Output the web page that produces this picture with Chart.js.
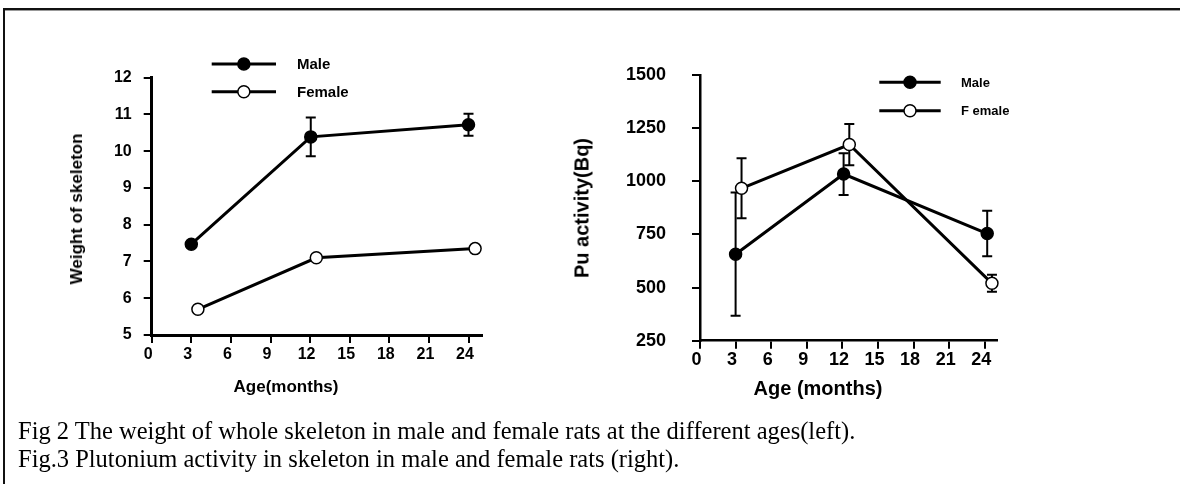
<!DOCTYPE html>
<html><head><meta charset="utf-8">
<script src="https://cdn.jsdelivr.net/npm/chart.js@4.4.1/dist/chart.umd.min.js"></script>
<style>
html,body{margin:0;padding:0;background:#fff;width:1180px;height:484px;overflow:hidden;position:relative;font-family:"Liberation Sans",Arial,sans-serif;}
#frameTop{position:absolute;left:3px;top:8px;width:1177px;height:2px;background:#111;}
#frameTop2{position:absolute;left:3px;top:10px;width:1177px;height:1px;background:#999;}
#frameLeft{position:absolute;left:3px;top:8px;width:2px;height:476px;background:#111;}
canvas{position:absolute;top:0;}
#cL{left:0;}
#cR{left:540px;}
.t{position:absolute;font-weight:bold;color:#000;white-space:nowrap;transform:translate(-50%,-50%);}
.rot{transform:translate(-50%,-50%) rotate(-90deg);}
#caption{position:absolute;left:18px;top:417px;font-family:"Liberation Serif","Times New Roman",serif;font-size:24.5px;line-height:28px;color:#000;white-space:nowrap;}
</style></head>
<body>
<div id="frameTop"></div><div id="frameTop2"></div><div id="frameLeft"></div>
<canvas id="cL" width="540" height="420"></canvas>
<canvas id="cR" width="640" height="420"></canvas>
<div class="t rot" style="left:77px;top:209px;font-size:17px;">Weight of skeleton</div>
<div class="t" style="left:286px;top:387px;font-size:17px;">Age(months)</div>
<div class="t rot" style="left:582px;top:207.5px;font-size:20px;">Pu activity(Bq)</div>
<div class="t" style="left:818px;top:388px;font-size:20px;">Age (months)</div>
<div id="caption">Fig 2 The weight of whole skeleton in male and female rats at the different ages(left).<br>Fig.3 Plutonium activity in skeleton in male and female rats (right).</div>
<script>
// ---- Data: left chart (weight of skeleton) ----
const leftMaleAge = [3, 12.05, 24];
const leftMaleWeight = [7.47, 10.39, 10.72];
const leftMaleErr = [0, 0.53, 0.30];
const leftFemaleAge = [3.5, 12.47, 24.5];
const leftFemaleWeight = [5.70, 7.10, 7.35];
const leftFemaleErr = [0, 0, 0];
const leftXTicks = [0, 3, 6, 9, 12, 15, 18, 21, 24];
const leftYTicks = [5, 6, 7, 8, 9, 10, 11, 12];
const leftLegend = ["Male", "Female"];

// ---- Data: right chart (Pu activity) ----
const rightMaleAge = [3, 12.1, 24.2];
const rightMaleActivity = [657, 1034, 754];
const rightMaleErr = [290, 98, 107];
const rightFemaleAge = [3.5, 12.58, 24.6];
const rightFemaleActivity = [967, 1173, 520];
const rightFemaleErr = [141, 97, 40];
const rightXTicks = [0, 3, 6, 9, 12, 15, 18, 21, 24];
const rightYTicks = [250, 500, 750, 1000, 1250, 1500];
const rightLegend = ["Male", "F emale"];

function pts(xs, ys){ return xs.map((x,i)=>({x:x, y:ys[i]})); }

const errorBarPlugin = {
  id:'errorBars',
  beforeDatasetsDraw(chart, args, opts){
    const ctx = chart.ctx, xs = chart.scales.x, ys = chart.scales.y;
    ctx.save();
    ctx.strokeStyle = '#000';
    ctx.lineWidth = opts.lineWidth || 2;
    chart.data.datasets.forEach(ds=>{
      (ds.errors||[]).forEach((e,i)=>{
        if(!e) return;
        const p = ds.data[i];
        const px = xs.getPixelForValue(p.x);
        const yt = ys.getPixelForValue(p.y + e), yb = ys.getPixelForValue(p.y - e);
        const cw = opts.cap || 5;
        ctx.beginPath();
        ctx.moveTo(px, yt); ctx.lineTo(px, yb);
        ctx.moveTo(px-cw, yt); ctx.lineTo(px+cw, yt);
        ctx.moveTo(px-cw, yb); ctx.lineTo(px+cw, yb);
        ctx.stroke();
      });
    });
    ctx.restore();
  }
};

const legendPlugin = {
  id:'lineLegend',
  afterDraw(chart, args, o){
    const ctx = chart.ctx;
    ctx.save();
    chart.data.datasets.forEach((ds,i)=>{
      const y = o.y0 + i*o.dy;
      ctx.strokeStyle = '#000'; ctx.lineWidth = 3;
      ctx.beginPath(); ctx.moveTo(o.x1, y); ctx.lineTo(o.x2, y); ctx.stroke();
      ctx.beginPath(); ctx.arc((o.x1+o.x2)/2, y, o.r, 0, Math.PI*2);
      ctx.fillStyle = ds.pointBackgroundColor; ctx.fill();
      ctx.lineWidth = 1.5; ctx.stroke();
      ctx.fillStyle = '#000';
      ctx.font = 'bold ' + o.size + 'px "Liberation Sans", Arial, sans-serif';
      ctx.textBaseline = 'middle'; ctx.textAlign = 'left';
      ctx.fillText(ds.label, o.tx, y + 1);
    });
    ctx.restore();
  }
};

function makeChart(id, cfg){
  const font = {family:'"Liberation Sans", Arial, sans-serif', weight:'bold', size:cfg.tickSize};
  return new Chart(document.getElementById(id), {
    type:'line',
    data:{datasets:[
      {label:cfg.legend[0], data:pts(cfg.mx, cfg.my), errors:cfg.me, borderColor:'#000', borderWidth:3,
       pointRadius:6, pointBackgroundColor:'#000', pointBorderColor:'#000', pointBorderWidth:1.5, clip:false},
      {label:cfg.legend[1], data:pts(cfg.fx, cfg.fy), errors:cfg.fe, borderColor:'#000', borderWidth:3,
       pointRadius:6, pointBackgroundColor:'#fff', pointBorderColor:'#000', pointBorderWidth:1.5, clip:false}
    ]},
    options:{
      responsive:false, animation:false, events:[],
      layout:{padding:{left:0, top:cfg.top, right:cfg.right, bottom:0}},
      plugins:{legend:{display:false}, tooltip:{enabled:false},
        errorBars:{lineWidth:2, cap:5}, lineLegend:cfg.leg},
      scales:{
        x:{type:'linear', min:0, max:25,
          afterBuildTicks:s=>{s.ticks = cfg.xt.map(v=>({value:v}));},
          afterFit:s=>{s.height = cfg.xh;},
          grid:{display:true, drawOnChartArea:false, drawTicks:true, tickLength:8, color:'#000', lineWidth:2},
          border:{display:true, color:'#000', width:cfg.bw},
          ticks:{color:'#000', font:font, padding:cfg.xpad, maxRotation:0, autoSkip:false, labelOffset:-3.5,
            callback:v=>String(v)}},
        y:{type:'linear', min:cfg.ymin, max:cfg.ymax,
          afterBuildTicks:s=>{s.ticks = cfg.yt.map(v=>({value:v}));},
          afterFit:s=>{s.width = cfg.yw;},
          grid:{display:true, drawOnChartArea:false, drawTicks:true, tickLength:8, color:'#000', lineWidth:2},
          border:{display:true, color:'#000', width:cfg.bw},
          ticks:{color:'#000', font:font, padding:cfg.ypad, autoSkip:false, callback:v=>String(v)}}
      }
    },
    plugins:[errorBarPlugin, legendPlugin]
  });
}

makeChart('cL', {mx:leftMaleAge, my:leftMaleWeight, me:leftMaleErr, fx:leftFemaleAge, fy:leftFemaleWeight, fe:leftFemaleErr,
  xt:leftXTicks, yt:leftYTicks, legend:leftLegend, ymin:5, ymax:12, tickSize:16, bw:3,
  top:77.7, right:58.3, xh:85, yw:151.7, xpad:2, ypad:12,
  leg:{x1:211.7, x2:276, y0:64, dy:27.7, r:6, tx:297, size:15}});

makeChart('cR', {mx:rightMaleAge, my:rightMaleActivity, me:rightMaleErr, fx:rightFemaleAge, fy:rightFemaleActivity, fe:rightFemaleErr,
  xt:rightXTicks, yt:rightYTicks, legend:rightLegend, ymin:250, ymax:1500, tickSize:18, bw:2.5,
  top:75, right:183.3, xh:79.3, yw:160, xpad:1, ypad:26,
  leg:{x1:339.3, x2:400.7, y0:82.3, dy:28.4, r:6, tx:421, size:13}});
</script>
</body></html>
